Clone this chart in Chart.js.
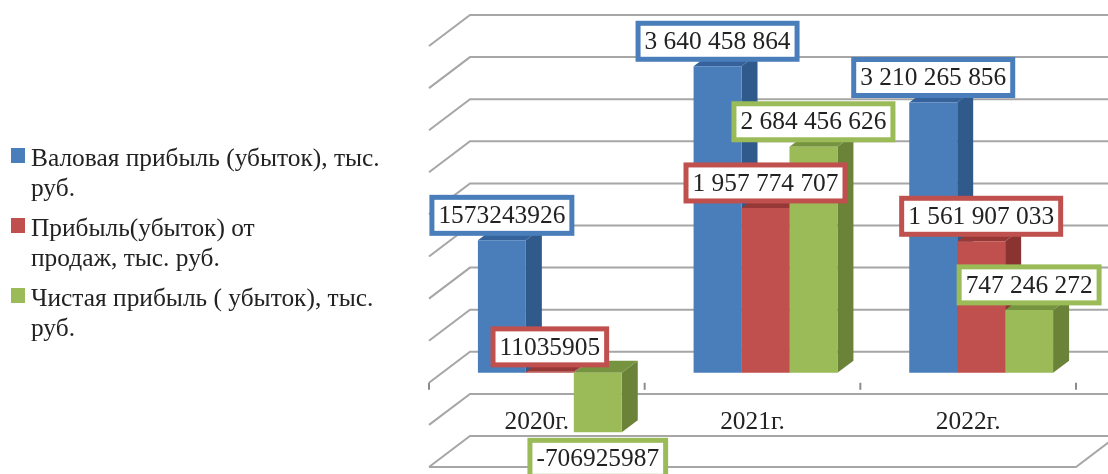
<!DOCTYPE html>
<html lang="ru">
<head>
<meta charset="utf-8">
<title>Прибыль</title>
<script src="https://cdn.jsdelivr.net/npm/chart.js@4"></script>
<style>
    html, body { margin: 0; padding: 0; background: #fff; overflow: hidden; }
    #wrap { position: relative; width: 1108px; height: 474px; filter: blur(0.5px); }
    #grafico { position: absolute; left: 0; top: 0; }
    #legenda { position: absolute; left: 0; top: 0; font-family: "Liberation Serif", serif; font-size: 25.4px; line-height: 29.5px; color: #222; }
    .item { position: absolute; left: 31px; white-space: pre; }
    .item i { position: absolute; left: -20px; top: 5px; width: 14px; height: 15px; }
</style>
</head>
<body>
<div id="wrap">
    <canvas id="grafico" width="1108" height="474"></canvas>
    <div id="legenda"></div>
</div>
<script>
const categorias = ["2020г.", "2021г.", "2022г."];
const valovaya = [1573243926, 3640458864, 3210265856];
const prodazhi = [11035905, 1957774707, 1561907033];
const chistaya = [-706925987, 2684456626, 747246272];

const nomeValovaya = "Валовая прибыль (убыток), тыс.\nруб.";
const nomeProdazhi = "Прибыль(убыток) от\nпродаж, тыс. руб.";
const nomeChistaya = "Чистая прибыль ( убыток), тыс.\nруб.";

const eixoMin = -1000000000;
const eixoMax = 4000000000;
const eixoPasso = 500000000;

const cores = [
    { frente: "#4a7ebb", lado: "#30598c", topo: "#35629a" },
    { frente: "#c0504d", lado: "#8b3331", topo: "#963836" },
    { frente: "#9bbb59", lado: "#6a8339", topo: "#76933f" }
];

// the bars stand 13px right / 10px up from the front edge of the floor
const fundo = { x: 28, y: -21 };
const frente = { x: -13, y: 10 };
const prof = { x: 16, y: -12 };

function formatarValor(v, i) {
    if (i === 0) return String(v);
    return String(v).replace(/\B(?=(\d{3})+$)/g, " ");
}

const parede3d = {
    id: "parede3d",
    beforeDatasetsDraw(chart) {
        const ctx = chart.ctx;
        const { x, y } = chart.scales;
        const area = chart.chartArea;
        ctx.save();
        ctx.strokeStyle = "#a6a6a6";
        ctx.lineWidth = 2;
        y.ticks.forEach(t => {
            const py = y.getPixelForValue(t.value);
            ctx.beginPath();
            ctx.moveTo(area.left + frente.x, py + frente.y);
            ctx.lineTo(area.left + fundo.x, py + fundo.y);
            ctx.lineTo(area.right + fundo.x, py + fundo.y);
            ctx.stroke();
        });

        // floor edge at the minimum of the axis
        const pb = y.getPixelForValue(eixoMin);
        ctx.beginPath();
        ctx.moveTo(area.left + frente.x, pb + frente.y);
        ctx.lineTo(area.right + frente.x, pb + frente.y);
        ctx.lineTo(area.right + fundo.x, pb + fundo.y);
        ctx.stroke();

        // tick marks on the category axis
        const p0 = y.getPixelForValue(0) + frente.y;
        const passo = (area.right - area.left) / categorias.length;
        ctx.strokeStyle = "#8c8c8c";
        for (let i = 0; i <= categorias.length; i++) {
            const px = area.left + frente.x + passo * i;
            ctx.beginPath();
            ctx.moveTo(px, p0);
            ctx.lineTo(px, p0 + 7);
            ctx.stroke();
        }

        // sides and tops of the bars, in order so that each one covers the last
        chart.data.datasets.forEach((ds, d) => {
            chart.getDatasetMeta(d).data.forEach(b => {
                const esq = b.x - b.width / 2;
                const dir = b.x + b.width / 2;
                const alto = Math.min(b.y, b.base);
                const baixo = Math.max(b.y, b.base);
                ctx.fillStyle = cores[d].lado;
                ctx.beginPath();
                ctx.moveTo(dir, alto);
                ctx.lineTo(dir + prof.x, alto + prof.y);
                ctx.lineTo(dir + prof.x, baixo + prof.y);
                ctx.lineTo(dir, baixo);
                ctx.closePath();
                ctx.fill();
                ctx.fillStyle = cores[d].topo;
                ctx.beginPath();
                ctx.moveTo(esq, alto);
                ctx.lineTo(esq + prof.x, alto + prof.y);
                ctx.lineTo(dir + prof.x, alto + prof.y);
                ctx.lineTo(dir, alto);
                ctx.closePath();
                ctx.fill();
            });
        });

        ctx.fillStyle = "#222";
        ctx.font = '25.4px "Liberation Serif", serif';
        ctx.textAlign = "center";
        ctx.textBaseline = "middle";
        categorias.forEach((c, i) => {
            ctx.fillText(c, x.getPixelForValue(i) + frente.x, 422);
        });
        ctx.restore();
    },
    afterDatasetsDraw(chart) {
        const ctx = chart.ctx;
        ctx.save();
        ctx.font = '25.4px "Liberation Serif", serif';
        ctx.textAlign = "center";
        ctx.textBaseline = "middle";
        chart.data.datasets.forEach((ds, d) => {
            chart.getDatasetMeta(d).data.forEach((b, i) => {
                const texto = formatarValor(ds.data[i], i);
                const larg = ctx.measureText(texto).width + 13;
                const alt = 36;
                const cy = ds.data[i] < 0 ? b.y + 26 : b.y - 25;
                ctx.fillStyle = "#fff";
                ctx.strokeStyle = cores[d].frente;
                ctx.lineWidth = 5;
                ctx.fillRect(b.x - larg / 2, cy - alt / 2, larg, alt);
                ctx.strokeRect(b.x - larg / 2, cy - alt / 2, larg, alt);
                ctx.fillStyle = "#222";
                ctx.fillText(texto, b.x, cy + 1);
            });
        });
        ctx.restore();
    }
};

function criarGrafico() {
    const ctx = document.getElementById("grafico").getContext("2d");
    const serie = (label, data, d) => ({
        label,
        data,
        backgroundColor: cores[d].frente,
        borderWidth: 0,
        barPercentage: 1,
        categoryPercentage: 0.667
    });
    return new Chart(ctx, {
        type: "bar",
        data: {
            labels: categorias,
            datasets: [
                serie(nomeValovaya, valovaya, 0),
                serie(nomeProdazhi, prodazhi, 1),
                serie(nomeChistaya, chistaya, 2)
            ]
        },
        options: {
            responsive: false,
            animation: false,
            layout: { padding: { left: 442, right: 19, top: 36, bottom: 17 } },
            plugins: { legend: { display: false }, tooltip: { enabled: false } },
            scales: {
                x: { display: false },
                y: { display: false, min: eixoMin, max: eixoMax, ticks: { stepSize: eixoPasso } }
            }
        },
        plugins: [parede3d]
    });
}

function criarLegenda(chart) {
    const legenda = document.getElementById("legenda");
    const topos = [143, 213, 283];
    chart.data.datasets.forEach((ds, d) => {
        const item = document.createElement("div");
        item.className = "item";
        item.style.top = topos[d] + "px";
        item.textContent = ds.label;
        const quadro = document.createElement("i");
        quadro.style.background = cores[d].frente;
        item.appendChild(quadro);
        legenda.appendChild(item);
    });
}

criarLegenda(criarGrafico());
</script>
</body>
</html>
